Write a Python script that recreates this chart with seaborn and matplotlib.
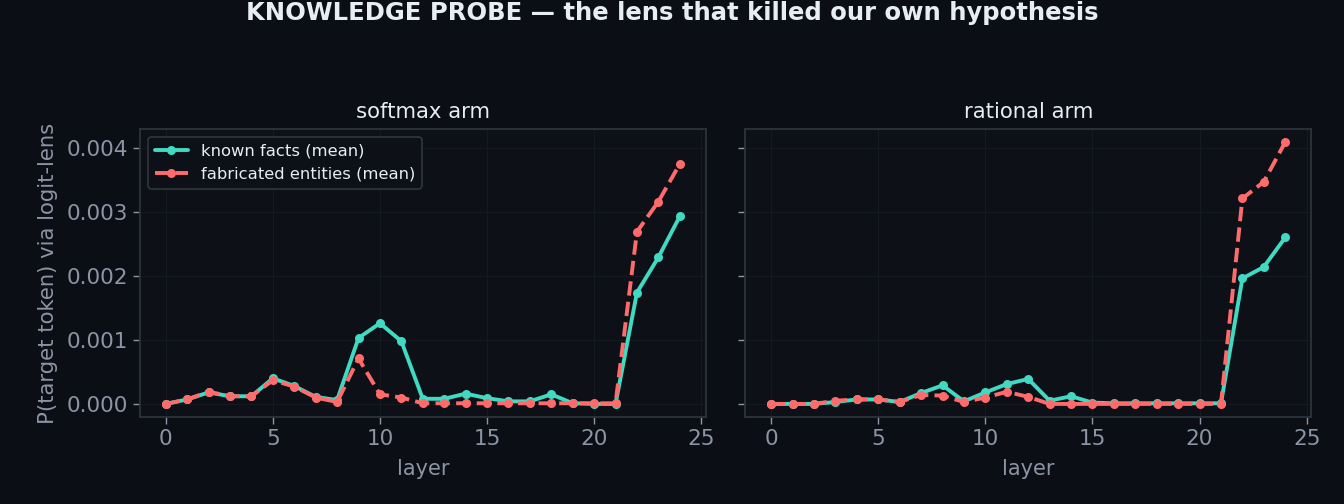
import numpy as np
import pandas as pd
import matplotlib
matplotlib.use("Agg")
import matplotlib.pyplot as plt
import seaborn as sns

layers = list(range(25))

softmax_known = [0.0, 0.00007, 0.00018, 0.00012, 0.00012, 0.00040, 0.00028, 0.00011, 0.00006,
                 0.00103, 0.00126, 0.00098, 0.00008, 0.00008, 0.00016, 0.00009, 0.00004, 0.00004,
                 0.00015, 0.00001, 0.0, 0.0, 0.00174, 0.00229, 0.00293]
softmax_fab = [0.0, 0.00007, 0.00019, 0.00012, 0.00012, 0.00037, 0.00027, 0.00010, 0.00003,
               0.00071, 0.00015, 0.00010, 0.00001, 0.00001, 0.00001, 0.00001, 0.00001, 0.00001,
               0.00001, 0.00001, 0.00001, 0.00001, 0.00269, 0.00316, 0.00375]
rational_known = [0.0, 0.0, 0.0, 0.00003, 0.00007, 0.00007, 0.00003, 0.00017, 0.00029, 0.00004,
                  0.00018, 0.00031, 0.00039, 0.00005, 0.00012, 0.00002, 0.00001, 0.00001,
                  0.00001, 0.00001, 0.00001, 0.00001, 0.00196, 0.00214, 0.00260]
rational_fab = [0.0, 0.0, 0.0, 0.00005, 0.00007, 0.00007, 0.00003, 0.00014, 0.00013, 0.00003,
                0.00010, 0.00019, 0.00011, 0.0, 0.0, 0.0, 0.0, 0.0, 0.0, 0.0, 0.0, 0.0,
                0.00321, 0.00347, 0.00409]

arm_titles = ["softmax arm", "rational arm"]
series_labels = ["known facts (mean)", "fabricated entities (mean)"]

BG = "#0b0e14"
AX_BG = "#0d1117"
SPINE = "#2d333b"
GRID = "#151a21"
TICK = "#8b95a5"
TEXT = "#e6edf3"
TEAL = "#40d9c1"
RED = "#ff6b6b"

sns.set_theme(style="dark")
plt.rcParams["font.family"] = ["DejaVu Sans"]

fig, axes = plt.subplots(1, 2, figsize=(13.44, 5.04), dpi=100, sharey=True)
fig.patch.set_facecolor(BG)

data = [(softmax_known, softmax_fab), (rational_known, rational_fab)]
for ax, title, (known, fab) in zip(axes, arm_titles, data):
    ax.set_facecolor(AX_BG)
    sns.lineplot(x=layers, y=known, ax=ax, color=TEAL, linewidth=2.8, marker="o",
                 markersize=6.5, markeredgewidth=0, label=series_labels[0])
    sns.lineplot(x=layers, y=fab, ax=ax, color=RED, linewidth=2.8, marker="o",
                 markersize=6.5, markeredgewidth=0, linestyle="--", label=series_labels[1])
    ax.set_title(title, color=TEXT, fontsize=15.3, pad=8)
    ax.set_xlabel("layer", color=TICK, fontsize=15, labelpad=7)
    ax.grid(True, color=GRID, linewidth=0.8)
    for s in ax.spines.values():
        s.set_visible(True)
        s.set_color(SPINE)
        s.set_linewidth(1.3)
    ax.tick_params(axis="both", colors=TICK, labelsize=15.5, length=5, width=1,
                   bottom=True, left=True, labelcolor=TICK)
    ax.set_xticks([0, 5, 10, 15, 20, 25])

axes[0].set_ylabel("P(target token) via logit-lens", color=TICK, fontsize=15.2, labelpad=6)
axes[0].set_yticks([0.0, 0.001, 0.002, 0.003, 0.004])
axes[0].set_yticklabels(["0.000", "0.001", "0.002", "0.003", "0.004"])

leg = axes[0].legend(loc="upper left", fontsize=11.8, facecolor=AX_BG, edgecolor="#30363d",
                     framealpha=1.0, labelcolor=TEXT)
leg.get_frame().set_linewidth(1.2)
if axes[1].get_legend() is not None:
    axes[1].get_legend().remove()

fig.suptitle("KNOWLEDGE PROBE — the lens that killed our own hypothesis",
             color=TEXT, fontsize=17.5, fontweight="bold", y=0.998)
fig.subplots_adjust(left=0.1042, right=0.9754, top=0.744, bottom=0.1726, wspace=0.0707)
fig.savefig("out.png", dpi=100, facecolor=BG)
